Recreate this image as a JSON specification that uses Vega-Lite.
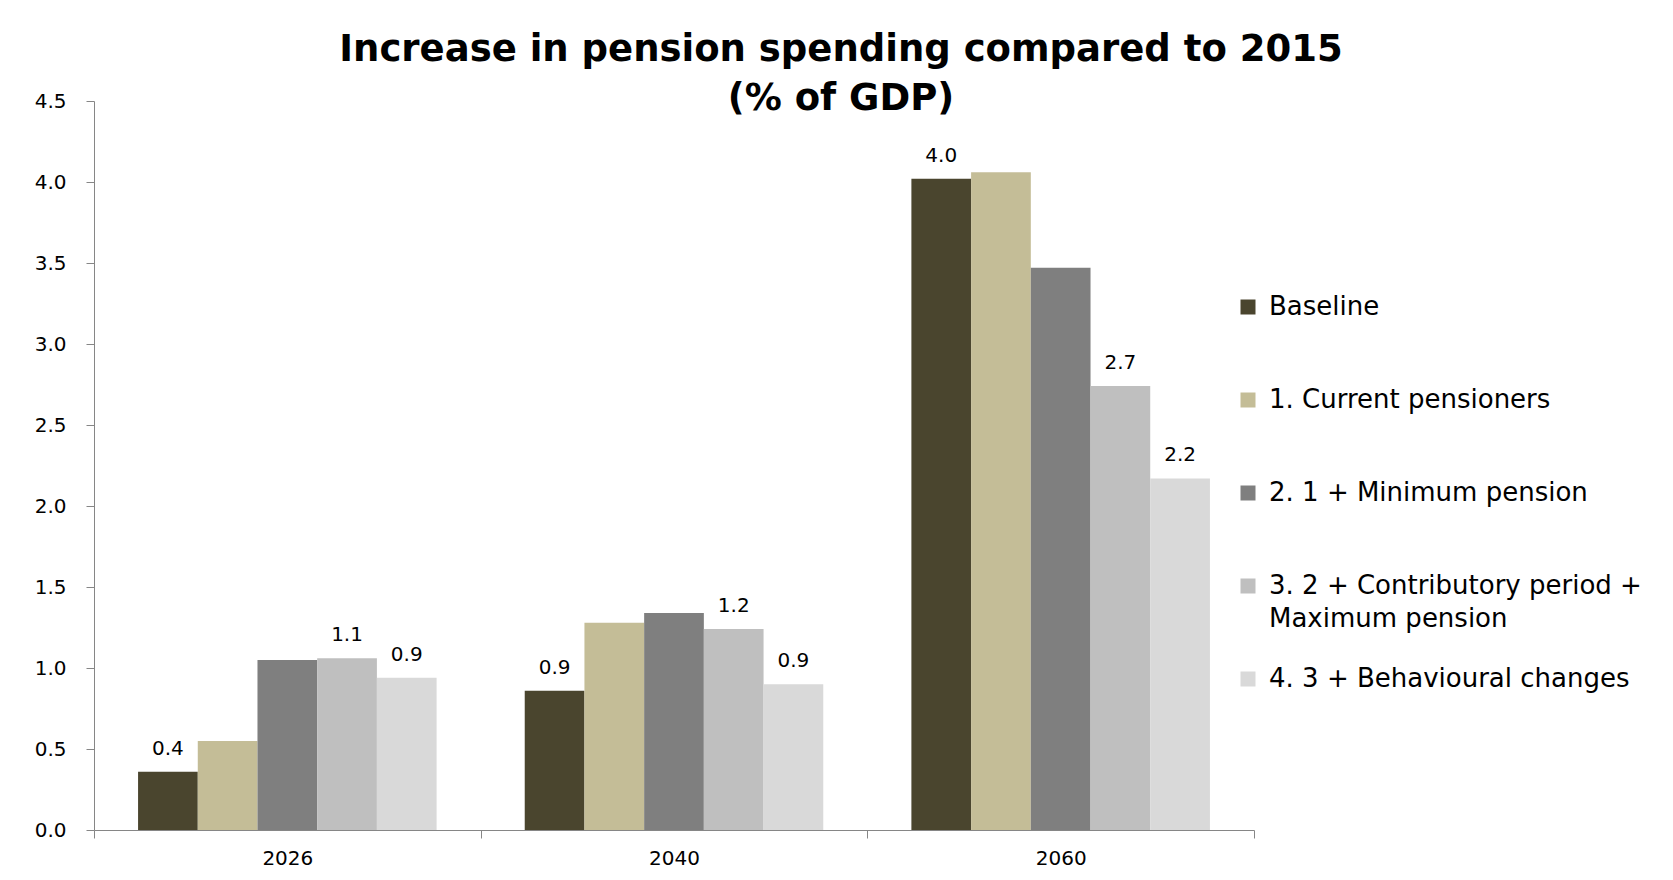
{
  "$schema": "https://vega.github.io/schema/vega-lite/v6.json",
  "width": 1160,
  "height": 729,
  "autosize": "none",
  "padding": {"left": 94, "top": 101, "right": 419, "bottom": 50},
  "background": "white",
  "title": {
    "text": ["Increase in pension spending compared to 2015", "(% of GDP)"],
    "anchor": "middle",
    "dx": 167,
    "font": "DejaVu Sans",
    "fontWeight": "bold",
    "fontSize": 37,
    "lineHeight": 49,
    "color": "#000000",
    "offset": -27
  },
  "data": {
    "values": [
      {"year": "2026", "series": "Baseline", "value": 0.36},
      {"year": "2026", "series": "1. Current pensioners", "value": 0.55},
      {"year": "2026", "series": "2. 1 + Minimum pension", "value": 1.05},
      {"year": "2026", "series": "3. 2 + Contributory period + Maximum pension", "value": 1.06},
      {"year": "2026", "series": "4. 3 + Behavioural changes", "value": 0.94},
      {"year": "2040", "series": "Baseline", "value": 0.86},
      {"year": "2040", "series": "1. Current pensioners", "value": 1.28},
      {"year": "2040", "series": "2. 1 + Minimum pension", "value": 1.34},
      {"year": "2040", "series": "3. 2 + Contributory period + Maximum pension", "value": 1.24},
      {"year": "2040", "series": "4. 3 + Behavioural changes", "value": 0.9},
      {"year": "2060", "series": "Baseline", "value": 4.02},
      {"year": "2060", "series": "1. Current pensioners", "value": 4.06},
      {"year": "2060", "series": "2. 1 + Minimum pension", "value": 3.47},
      {"year": "2060", "series": "3. 2 + Contributory period + Maximum pension", "value": 2.74},
      {"year": "2060", "series": "4. 3 + Behavioural changes", "value": 2.17}
    ]
  },
  "encoding": {
    "x": {
      "field": "year",
      "type": "nominal",
      "scale": {"paddingInner": 0, "paddingOuter": 0},
      "axis": {
        "title": null,
        "labelAngle": 0,
        "labelFont": "DejaVu Sans",
        "labelFontSize": 20,
        "labelColor": "#000000",
        "labelPadding": 10,
        "domainColor": "#868686",
        "tickColor": "#868686",
        "tickSize": 8,
        "tickBand": "extent"
      }
    },
    "xOffset": {
      "field": "series",
      "type": "nominal",
      "sort": ["Baseline", "1. Current pensioners", "2. 1 + Minimum pension", "3. 2 + Contributory period + Maximum pension", "4. 3 + Behavioural changes"],
      "scale": {"paddingInner": 0, "paddingOuter": 0.738}
    },
    "y": {
      "field": "value",
      "type": "quantitative",
      "scale": {"domain": [0, 4.5], "nice": false},
      "axis": {
        "title": null,
        "values": [0, 0.5, 1, 1.5, 2, 2.5, 3, 3.5, 4, 4.5],
        "format": ".1f",
        "grid": false,
        "labelFont": "DejaVu Sans",
        "labelFontSize": 20,
        "labelColor": "#000000",
        "labelPadding": 20,
        "domainColor": "#868686",
        "tickColor": "#868686",
        "tickSize": 8
      }
    }
  },
  "layer": [
    {
      "mark": {"type": "bar"},
      "encoding": {
        "color": {
          "field": "series",
          "type": "nominal",
          "scale": {
            "domain": ["Baseline", "1. Current pensioners", "2. 1 + Minimum pension", "3. 2 + Contributory period + Maximum pension", "4. 3 + Behavioural changes"],
            "range": ["#4a452e", "#c4bd97", "#7f7f7f", "#bfbfbf", "#d9d9d9"]
          },
          "legend": {
            "title": null,
            "orient": "none",
            "legendX": 1141,
            "legendY": 193,
            "symbolType": "square",
            "symbolSize": 225,
            "symbolStrokeWidth": 0,
            "labelFont": "DejaVu Sans",
            "labelFontSize": 26,
            "labelColor": "#000000",
            "labelLimit": 600,
            "labelOffset": 8,
            "gridAlign": "all",
            "rowPadding": 34,
            "labelExpr": "datum.label == '3. 2 + Contributory period + Maximum pension' ? ['3. 2 + Contributory period +', 'Maximum pension'] : datum.label"
          }
        }
      }
    },
    {
      "transform": [{"filter": "datum.series == 'Baseline' || datum.series == '3. 2 + Contributory period + Maximum pension' || datum.series == '4. 3 + Behavioural changes'"}],
      "mark": {"type": "text", "baseline": "middle", "dy": -23, "font": "DejaVu Sans", "fontSize": 20, "color": "#000000"},
      "encoding": {
        "text": {"field": "value", "type": "quantitative", "format": ".1f"}
      }
    }
  ],
  "config": {
    "view": {"stroke": null},
    "style": {"guide-label": {"lineHeight": 33}}
  }
}
